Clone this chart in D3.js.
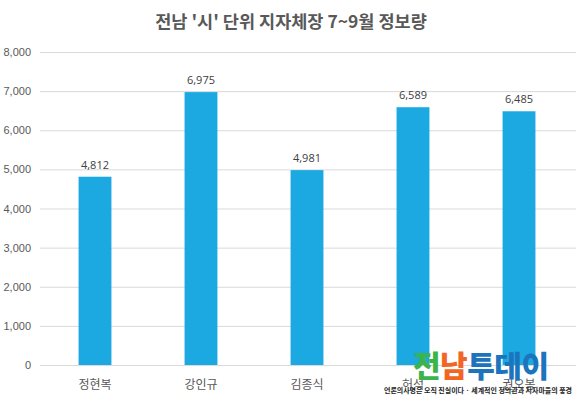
<!DOCTYPE html>
<html>
<head>
<meta charset="utf-8">
<script src="https://cdn.jsdelivr.net/npm/d3@7"></script>
<style>
  body { margin: 0; background: #fff; }
  svg { display: block; font-family: "Open Sans", "Noto Sans CJK KR", sans-serif; }
</style>
</head>
<body>
<div id="chart"></div>
<script>
// chart values
var titleText = "전남 '시' 단위 지자체장 7~9월 정보량";
var names = ["정현복", "강인규", "김종식", "허석", "권오봉"];
var counts = [4812, 6975, 4981, 6589, 6485];
var yTicks = [0, 1000, 2000, 3000, 4000, 5000, 6000, 7000, 8000];

var width = 582, height = 398;
var margin = {top: 52, right: 10, bottom: 33, left: 42};

var svg = d3.select("#chart")
  .append("svg")
    .attr("width", width)
    .attr("height", height);

var x = d3.scaleBand()
    .domain(names)
    .range([margin.left, width - margin.right])
    .paddingInner(0.69)
    .paddingOuter(0.345);

var y = d3.scaleLinear()
    .domain([0, 8000])
    .range([height - margin.bottom, margin.top]);

// title
svg.append("text")
  .attr("x", width / 2)
  .attr("y", 28)
  .attr("text-anchor", "middle")
  .attr("font-family", "'Noto Sans CJK KR', sans-serif")
  .attr("font-size", 17.5)
  .attr("font-weight", "bold")
  .attr("fill", "#595959")
  .text(titleText);

// gridlines + y labels
var yAxis = svg.append("g")
  .attr("transform", `translate(${margin.left - 2},0)`)
  .call(d3.axisLeft(y).tickValues(yTicks)
        .tickSize(-(width - margin.left - margin.right + 6))
        .tickPadding(9)
        .tickFormat(d3.format(",")));
yAxis.select(".domain").remove();
yAxis.selectAll(".tick line").attr("stroke", "#d9d9d9");
yAxis.selectAll(".tick text")
  .attr("fill", "#595959")
  .attr("font-size", 11);

// bars
svg.append("g")
  .attr("fill", "#1ca9e1")
  .selectAll("rect")
  .data(counts)
  .join("rect")
    .attr("x", (d, i) => x(names[i]))
    .attr("width", x.bandwidth())
    .attr("y", d => y(d))
    .attr("height", d => y(0) - y(d));

// value labels
svg.append("g")
  .selectAll("text")
  .data(counts)
  .join("text")
    .attr("x", (d, i) => x(names[i]) + x.bandwidth() / 2)
    .attr("y", d => y(d) - 8)
    .attr("text-anchor", "middle")
    .attr("font-size", 11)
    .attr("fill", "#404040")
    .text(d => d3.format(",")(d));

// category labels
svg.append("g")
  .selectAll("text")
  .data(names)
  .join("text")
    .attr("x", d => x(d) + x.bandwidth() / 2)
    .attr("y", height - margin.bottom + 24)
    .attr("text-anchor", "middle")
    .attr("font-family", "'Noto Sans CJK KR', sans-serif")
    .attr("font-size", 12)
    .attr("fill", "#595959")
    .text(d => d);

// watermark logo (sits over the last two category labels, as in the source image)
var logo = svg.append("g");
var logoText = logo.append("text")
  .attr("x", 413)
  .attr("y", 377)
  .attr("font-family", "'Noto Sans CJK KR', sans-serif")
  .attr("font-size", 30)
  .attr("font-weight", "900")
  .attr("letter-spacing", -0.5);
logoText.append("tspan").attr("fill", "#3cb44a").text("전");
logoText.append("tspan").attr("fill", "#f26522").text("남");
logoText.append("tspan").attr("fill", "#1c75bc").text("투데이");
logo.append("text")
  .attr("x", 384)
  .attr("y", 393)
  .attr("font-family", "'Noto Sans CJK KR', sans-serif")
  .attr("font-size", 7)
  .attr("font-weight", "bold")
  .attr("fill", "#222")
  .attr("textLength", 188)
  .attr("lengthAdjust", "spacingAndGlyphs")
  .text("언론의사명은 오직 진실이다 · 세계적인 정의관과 지자마을의 풍경");
</script>
</body>
</html>
